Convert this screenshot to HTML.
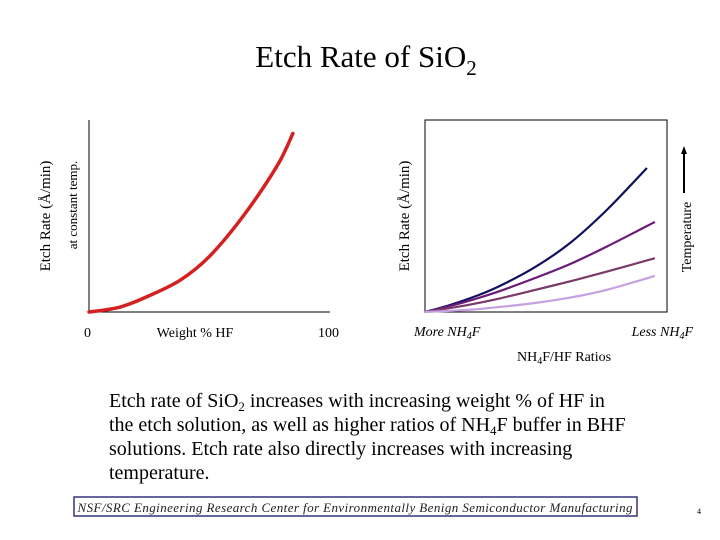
<!DOCTYPE html>
<html><head><meta charset="utf-8"><style>
body{margin:0;background:#fff;}
svg{display:block;font-family:"Liberation Serif",serif;}
</style></head><body>
<svg width="720" height="540" viewBox="0 0 720 540" xmlns="http://www.w3.org/2000/svg">
<text x="366" y="67" font-size="31" text-anchor="middle">Etch Rate of Si<tspan>O</tspan><tspan font-size="21" dy="8">2</tspan></text>

<g>
<line x1="89" y1="120" x2="89" y2="312" stroke="#000" stroke-width="1"/>
<line x1="89" y1="312" x2="330" y2="312" stroke="#000" stroke-width="1"/>
<text transform="translate(50,216) rotate(-90)" font-size="15" text-anchor="middle">Etch Rate  (Å/min)</text>
<text transform="translate(77,205) rotate(-90)" font-size="13" text-anchor="middle">at constant temp.</text>
<text x="84" y="337" font-size="14">0</text>
<text x="195" y="337" font-size="14" text-anchor="middle">Weight % HF</text>
<text x="318" y="337" font-size="14">100</text>
<path id="hfCurve" fill="none" stroke="#d42020" stroke-width="3.5" stroke-linecap="round"/>
</g>

<g>
<rect x="425" y="120" width="242" height="192" fill="none" stroke="#000" stroke-width="1"/>
<text transform="translate(409,216) rotate(-90)" font-size="15" text-anchor="middle">Etch Rate  (Å/min)</text>
<text x="414" y="336" font-size="14" font-style="italic">More NH<tspan font-size="10" dy="3">4</tspan><tspan dy="-3">F</tspan></text>
<text x="693" y="336" font-size="14" font-style="italic" text-anchor="end">Less NH<tspan font-size="10" dy="3">4</tspan><tspan dy="-3">F</tspan></text>
<text x="564" y="361" font-size="14" text-anchor="middle">NH<tspan font-size="10" dy="3">4</tspan><tspan dy="-3">F/HF Ratios</tspan></text>
<g id="tempCurves"></g>
<line x1="684" y1="193" x2="684" y2="152" stroke="#000" stroke-width="2"/>
<polygon points="684,146 681,154 687,154" fill="#000"/>
<text transform="translate(691,237) rotate(-90)" font-size="14" text-anchor="middle">Temperature</text>
</g>

<g font-size="20">
<text x="109" y="407">Etch rate of SiO<tspan font-size="13" dy="4">2</tspan><tspan dy="-4"> increases with increasing weight % of HF in</tspan></text>
<text x="109" y="431">the etch solution, as well as higher ratios of NH<tspan font-size="13" dy="4">4</tspan><tspan dy="-4">F buffer in BHF</tspan></text>
<text x="109" y="455">solutions.  Etch rate also directly increases with increasing</text>
<text x="109" y="479">temperature.</text>
</g>

<rect x="74" y="497" width="563" height="19" fill="none" stroke="#33337a" stroke-width="1.5"/>
<text x="355" y="512" font-size="13" font-style="italic" text-anchor="middle" fill="#222" textLength="555">NSF/SRC Engineering Research Center for Environmentally Benign Semiconductor Manufacturing</text>
<text x="697" y="514" font-size="8">4</text>
</svg>
<script>
// Left chart data (weight % HF vs relative etch rate)
const hfX = [0, 13, 25, 38, 50, 64, 78, 84.6];
const hfY = [0, 2.6, 8.5, 16.7, 29, 50, 76, 93];
// Right chart data (NH4F/HF ratio position vs relative etch rate), series by temperature
const ratioX = [0, 10, 20, 30, 45.5, 60, 75, 91.7, 95];
const seriesNames = ['temp-highest', 'temp-high', 'temp-mid', 'temp-low'];
const seriesColors = ['#10105e', '#6a1a78', '#7a3a6a', '#c6a0e0'];
const rateHighest = [0, 3.5, 7.8, 13, 23.4, 36, 53, 75, null];
const rateHigh = [0, 3, 6.5, 10.5, 17.7, 25, 34, null, 46.9];
const rateMid = [0, 2, 4.2, 6.8, 11.5, 16, 21, null, 28];
const rateLow = [0, 0.6, 1.3, 2.5, 4.7, 7.5, 11.5, null, 18.8];
const seriesValues = [rateHighest, rateHigh, rateMid, rateLow];

function lx(v){return 89 + v/100*241;}
function ly(v){return 312 - v/100*192;}
function rx(v){return 425 + v/100*242;}
function ry(v){return 312 - v/100*192;}

function smooth(pts){
  let d = 'M' + pts[0][0] + ',' + pts[0][1];
  for (let i=0;i<pts.length-1;i++){
    const p0 = pts[i-1]||pts[i], p1=pts[i], p2=pts[i+1], p3=pts[i+2]||p2;
    const c1x=p1[0]+(p2[0]-p0[0])/6, c1y=p1[1]+(p2[1]-p0[1])/6;
    const c2x=p2[0]-(p3[0]-p1[0])/6, c2y=p2[1]-(p3[1]-p1[1])/6;
    d += ' C'+c1x+','+c1y+' '+c2x+','+c2y+' '+p2[0]+','+p2[1];
  }
  return d;
}
document.getElementById('hfCurve').setAttribute('d', smooth(hfX.map((x,i)=>[lx(x),ly(hfY[i])])));
const g = document.getElementById('tempCurves');
seriesValues.forEach((vals,s)=>{
  const pts=[];
  vals.forEach((v,i)=>{ if(v!==null) pts.push([rx(ratioX[i]), ry(v)]); });
  const p=document.createElementNS('http://www.w3.org/2000/svg','path');
  p.setAttribute('d', smooth(pts));
  p.setAttribute('fill','none');
  p.setAttribute('stroke', seriesColors[s]);
  p.setAttribute('stroke-width','2.2');
  
  
  g.appendChild(p);
});
</script>
</body></html>
